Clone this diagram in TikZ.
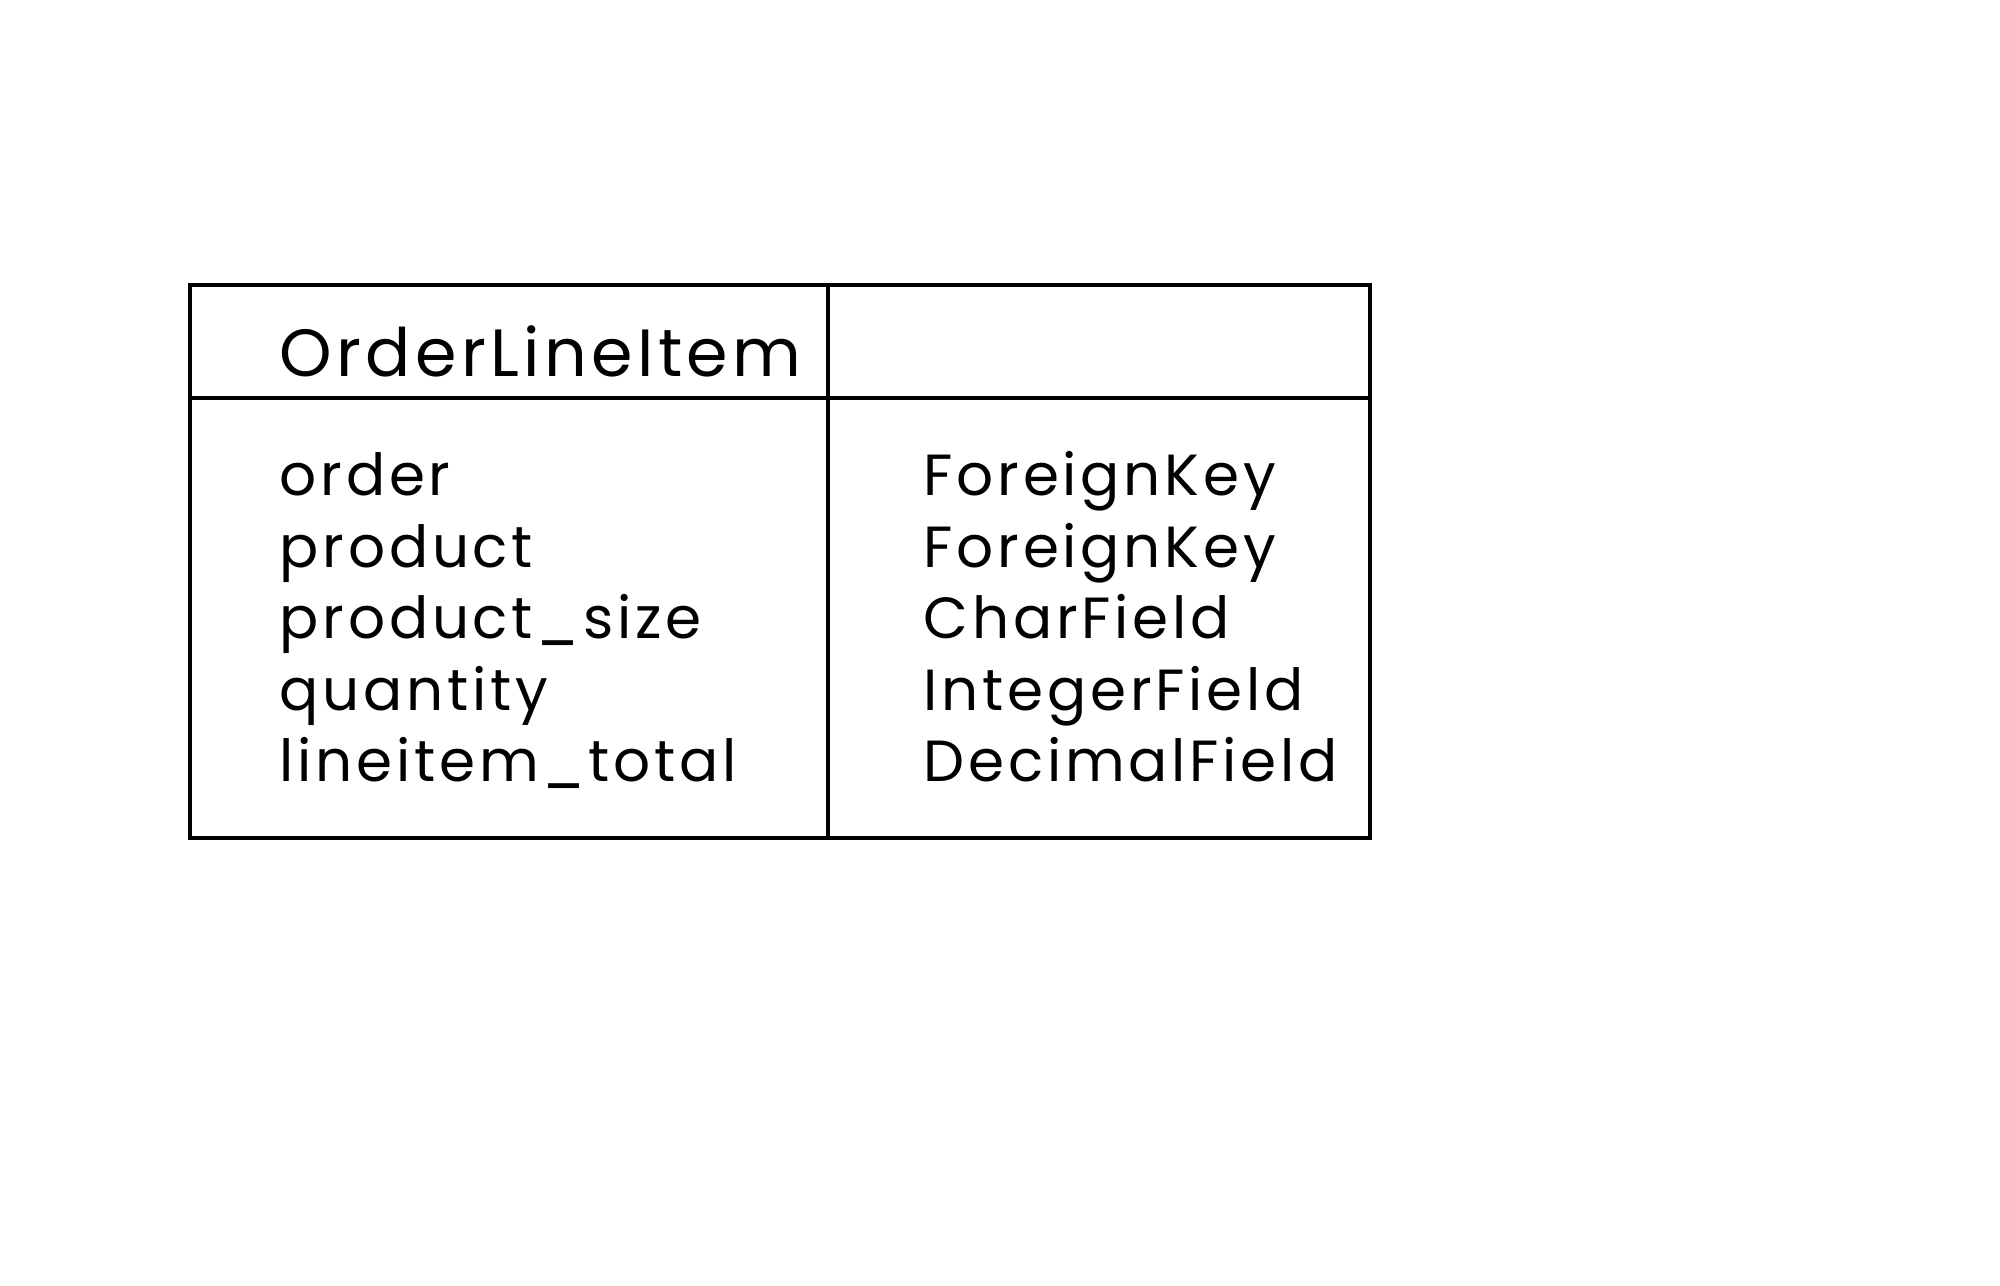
\documentclass[tikz,border=0pt]{standalone}
\usepackage{fontspec}
\setmainfont[LetterSpace=6.5]{Poppins}
\usepackage{tikz}
\tikzstyle{tablerule}=[line width=1.15pt, line join=miter]
\tikzstyle{titletext}=[anchor=base west, inner sep=0pt, font=\fontsize{19}{22}\selectfont]
\tikzstyle{fieldtext}=[anchor=base west, inner sep=0pt, font=\fontsize{16.5}{20}\selectfont]

\begin{document}
\begin{tikzpicture}[x=0.01cm,y=-0.01cm]
	\useasboundingbox (0,0) rectangle (2000,1286);
	% table frame
	\draw[tablerule] (190,285) rectangle (1370,838);
	\draw[tablerule] (828,285) -- (828,838);
	\draw[tablerule] (190,398) -- (1370,398);
	\node[titletext] (title) at (279,377) {OrderLineItem};
	% fields and their types
	\foreach \fname/\ftype [count=\i] in {order/ForeignKey, product/ForeignKey, product\_size/CharField, quantity/IntegerField, lineitem\_total/DecimalField}{
		\node[fieldtext] (name\i) at (279,{496+71.5*(\i-1)}) {\fname};
		\node[fieldtext] (type\i) at (923,{496+71.5*(\i-1)}) {\ftype};
	}
\end{tikzpicture}
\end{document}
